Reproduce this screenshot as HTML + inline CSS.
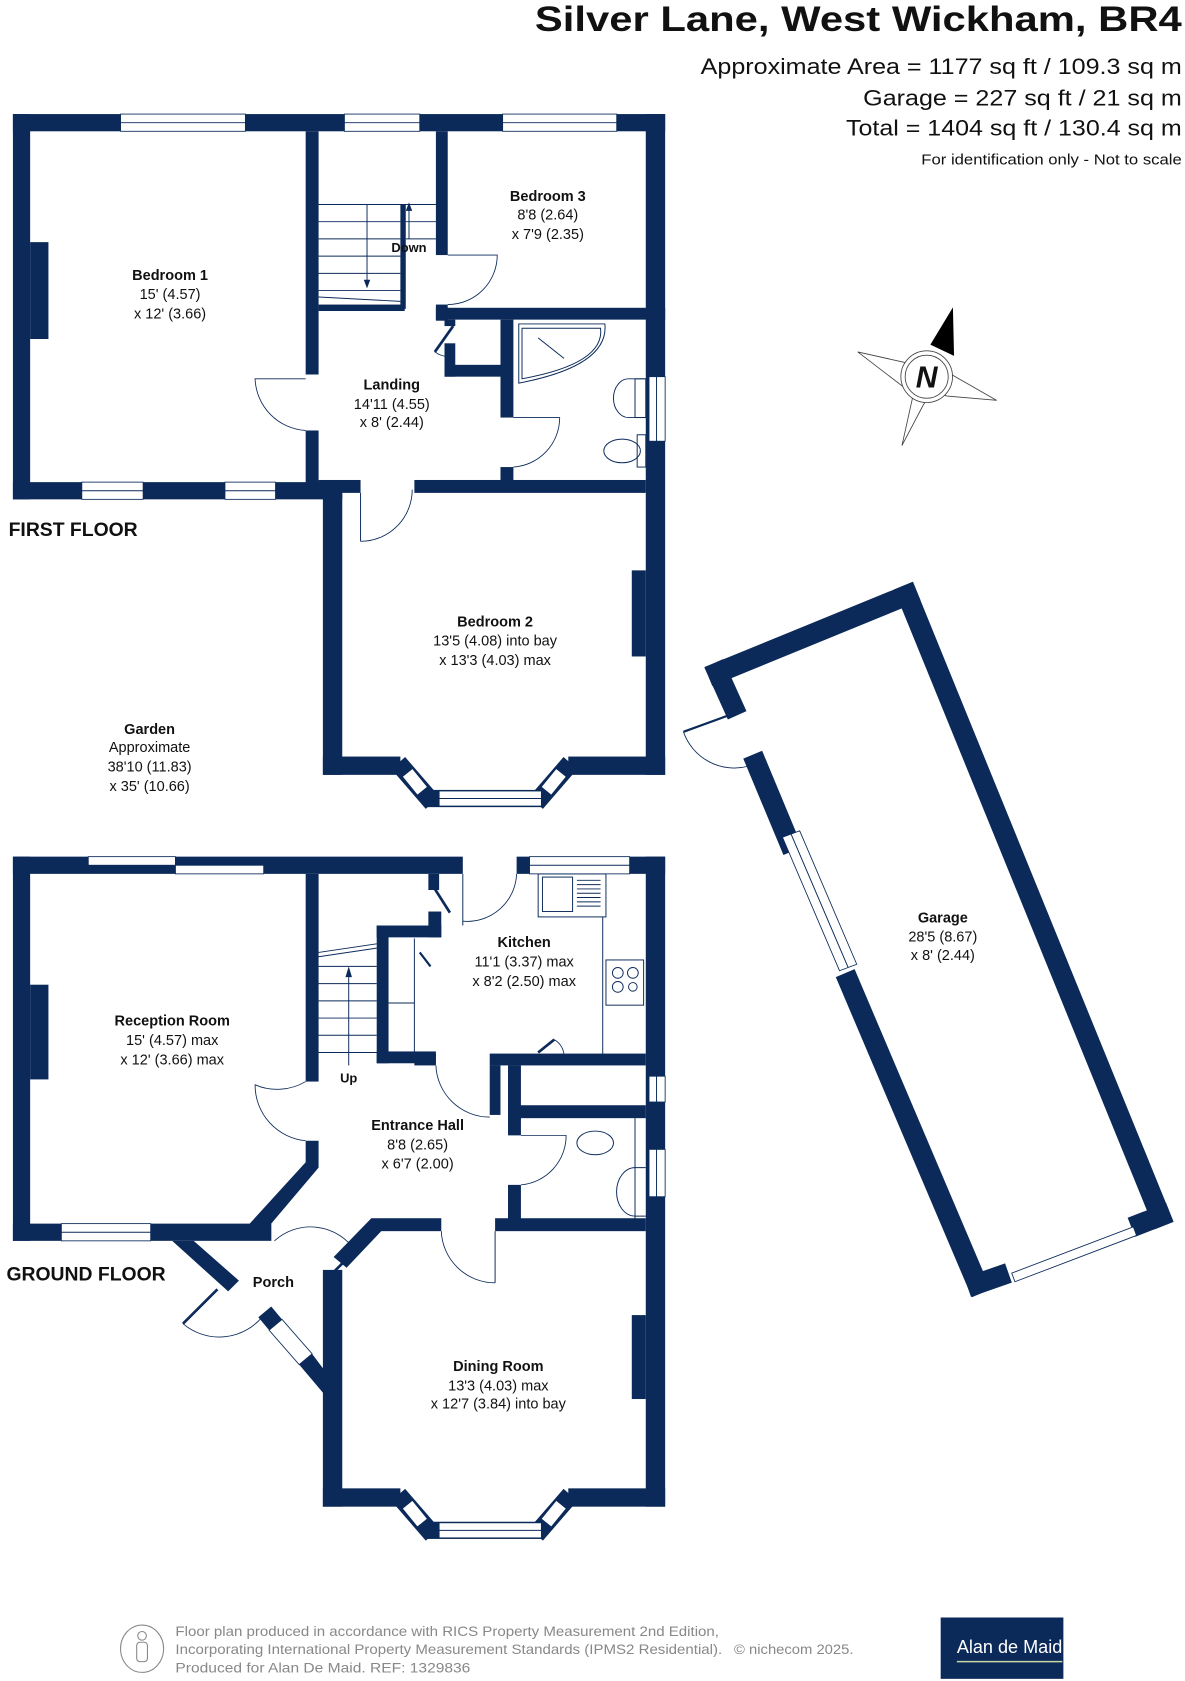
<!DOCTYPE html>
<html><head><meta charset="utf-8"><style>
html,body{margin:0;padding:0;background:#fff;}
svg{display:block;}
text{font-family:"Liberation Sans",Arial,sans-serif;fill:#111;}
</style></head><body>
<svg width="1185" height="1681" viewBox="0 0 1101 1562" preserveAspectRatio="none" xmlns="http://www.w3.org/2000/svg">
<defs><style>
.w{fill:#0b2a5a;}
.win{fill:#fff;stroke:#0b2a5a;stroke-width:0.8;}
.thin{fill:none;stroke:#0b2a5a;stroke-width:0.9;}
.arc{fill:none;stroke:#0b2a5a;stroke-width:0.8;}
.n{font-weight:bold;font-size:13.5px;text-anchor:middle;}
.d{font-size:13.5px;text-anchor:middle;}
</style></defs>

<!-- Header -->
<text x="497" y="29" font-size="33" font-weight="bold" textLength="601" lengthAdjust="spacingAndGlyphs">Silver Lane, West Wickham, BR4</text>
<text x="651" y="69" font-size="20.5" textLength="447" lengthAdjust="spacingAndGlyphs">Approximate Area = 1177 sq ft / 109.3 sq m</text>
<text x="802" y="98" font-size="20.5" textLength="296" lengthAdjust="spacingAndGlyphs">Garage = 227 sq ft / 21 sq m</text>
<text x="786" y="126" font-size="20.5" textLength="312" lengthAdjust="spacingAndGlyphs">Total = 1404 sq ft / 130.4 sq m</text>
<text x="856" y="153" font-size="14" textLength="242" lengthAdjust="spacingAndGlyphs">For identification only - Not to scale</text>

<!-- ========== FIRST FLOOR ========== -->
<rect class="w" x="12" y="106" width="606" height="16"/>
<rect class="w" x="12" y="106" width="16" height="358"/>
<rect class="w" x="28" y="225" width="17" height="90"/>
<rect class="w" x="12" y="448" width="306" height="16"/>
<rect class="w" x="284" y="122" width="12" height="226"/>
<rect class="w" x="284" y="400" width="12" height="52"/>
<rect class="w" x="296" y="283" width="80" height="6"/>
<rect class="w" x="372" y="190" width="5" height="97"/>
<g class="thin">
<line x1="296" y1="190" x2="405" y2="190"/>
<line x1="296" y1="206" x2="372" y2="206"/><line x1="296" y1="222" x2="372" y2="222"/>
<line x1="296" y1="238" x2="372" y2="238"/><line x1="296" y1="254" x2="372" y2="254"/>
<line x1="296" y1="270" x2="372" y2="270"/>
<line x1="377" y1="206" x2="405" y2="206"/><line x1="377" y1="222" x2="405" y2="222"/>
<line x1="341" y1="190" x2="341" y2="265"/>
<line x1="380" y1="190" x2="380" y2="222"/>
<line x1="296" y1="276" x2="372" y2="280"/>
</g>
<polygon points="338,260 344,260 341,268" fill="#0b2a5a"/>
<polygon points="377,196 383,196 380,188" fill="#0b2a5a"/>
<text x="380" y="234" font-size="12" font-weight="bold" text-anchor="middle">Down</text>
<rect class="w" x="405" y="122" width="11" height="115"/>
<rect class="w" x="405" y="283" width="11" height="15"/>
<rect class="w" x="405" y="286" width="213" height="11"/>
<path class="arc" d="M416,283 A46,46 0 0 0 462,237 L416,237"/>
<rect class="w" x="413" y="297" width="10" height="6"/>
<rect class="w" x="413" y="319" width="10" height="31"/>
<rect class="w" x="413" y="339" width="57" height="11"/>
<line x1="421" y1="303" x2="404" y2="327" stroke="#0b2a5a" stroke-width="2.5"/>
<path class="arc" d="M404,327 A22,22 0 0 0 420,331"/>
<rect class="w" x="465" y="297" width="12" height="91"/>
<rect class="w" x="465" y="434" width="12" height="14"/>
<path class="arc" d="M477,434 A46,46 0 0 0 520,388 L477,388"/>
<path class="thin" d="M482,301 L562,301 Q566,340 482,356 Z"/>
<path class="thin" d="M485,305 L558,305 Q562,338 485,352 Z"/>
<line class="thin" x1="500" y1="314" x2="524" y2="333"/>
<path class="thin" d="M600,352 L584,352 A14,18 0 0 0 584,388 L600,388"/>
<rect class="thin" x="590" y="352" width="10" height="36"/>
<ellipse class="thin" cx="578" cy="419" rx="17" ry="11"/>
<rect class="thin" x="592" y="404" width="8" height="30"/>
<rect class="w" x="600" y="106" width="18" height="614"/>
<rect class="win" x="603" y="350" width="15" height="60"/>
<line class="thin" x1="610" y1="350" x2="610" y2="410"/>
<rect class="w" x="296" y="446" width="39" height="12"/>
<rect class="w" x="385" y="446" width="215" height="12"/>
<path class="arc" d="M335,503 A48,48 0 0 0 383,455"/>
<line class="thin" x1="335" y1="458" x2="335" y2="503"/>
<path class="arc" d="M284,400 A50,50 0 0 1 237,352 L284,352"/>
<!-- bedroom2 -->
<rect class="w" x="300" y="458" width="18" height="262"/>
<g id="bay">
<rect class="w" x="300" y="703" width="72" height="17"/>
<rect class="w" x="528" y="703" width="90" height="17"/>
<line x1="370" y1="709" x2="402" y2="746" stroke="#0b2a5a" stroke-width="17"/>
<line x1="530" y1="709" x2="498" y2="746" stroke="#0b2a5a" stroke-width="17"/>
<rect class="w" x="395" y="734" width="110" height="16"/>
<rect class="win" x="408" y="735" width="95" height="14"/>
<line class="thin" x1="408" y1="742" x2="503" y2="742"/>
<polygon class="win" points="383.2,714.1 397.2,731.3 387.8,738.9 373.8,721.7"/>
<polygon class="win" points="516.8,714.1 502.8,731.3 512.2,738.9 526.2,721.7"/>
</g>
<rect class="w" x="587" y="530" width="13" height="80"/>
<rect class="win" x="112" y="106" width="116" height="16"/><line class="thin" x1="112" y1="114" x2="228" y2="114"/>
<rect class="win" x="320" y="106" width="70" height="16"/><line class="thin" x1="320" y1="114" x2="390" y2="114"/>
<rect class="win" x="467" y="106" width="106" height="16"/><line class="thin" x1="467" y1="114" x2="573" y2="114"/>
<rect class="win" x="76" y="448" width="57" height="16"/><line class="thin" x1="76" y1="456" x2="133" y2="456"/>
<rect class="win" x="209" y="448" width="47" height="16"/><line class="thin" x1="209" y1="456" x2="256" y2="456"/>
<text class="n" x="158" y="260">Bedroom 1</text>
<text class="d" x="158" y="278">15' (4.57)</text>
<text class="d" x="158" y="296">x 12' (3.66)</text>
<text class="n" x="509" y="187">Bedroom 3</text>
<text class="d" x="509" y="204">8'8 (2.64)</text>
<text class="d" x="509" y="222">x 7'9 (2.35)</text>
<text class="n" x="364" y="362">Landing</text>
<text class="d" x="364" y="380">14'11 (4.55)</text>
<text class="d" x="364" y="397">x 8' (2.44)</text>
<text class="n" x="460" y="582">Bedroom 2</text>
<text class="d" x="460" y="600">13'5 (4.08) into bay</text>
<text class="d" x="460" y="618">x 13'3 (4.03) max</text>
<text x="8" y="498" font-size="18" font-weight="bold">FIRST FLOOR</text>
<text class="n" x="139" y="682">Garden</text>
<text class="d" x="139" y="699">Approximate</text>
<text class="d" x="139" y="717">38'10 (11.83)</text>
<text class="d" x="139" y="735">x 35' (10.66)</text>

<!-- compass -->
<g stroke="#444" stroke-width="0.8" fill="#fff">
<polygon points="797,327 855,340 860,360 840,360"/>
<polygon points="926,372 870,340 860,362 880,368"/>
<polygon points="838,414 850,360 862,370 858,376"/>
<polygon points="885,287 865,320 886,330" fill="#000" stroke="#000"/>
<circle cx="861" cy="350" r="24"/>
<circle cx="861" cy="350" r="20"/>
</g>
<text x="861" y="360" font-size="28" font-weight="bold" font-style="italic" text-anchor="middle">N</text>

<!-- ========== GROUND FLOOR ========== -->
<rect class="w" x="12" y="796" width="418" height="16"/>
<rect class="w" x="480" y="796" width="138" height="16"/>
<rect class="w" x="12" y="796" width="16" height="357"/>
<rect class="w" x="28" y="915" width="17" height="88"/>
<rect class="w" x="12" y="1137" width="240" height="16"/>
<rect class="win" x="82" y="796" width="81" height="8"/>
<rect class="win" x="163" y="804" width="82" height="8"/>
<rect class="win" x="57" y="1137" width="83" height="16"/><line class="thin" x1="57" y1="1145" x2="140" y2="1145"/>
<rect class="w" x="284" y="812" width="12" height="193"/>
<polygon class="w" points="284,1060 296,1060 296,1085 252,1137 252,1153 232,1137 284,1080"/>
<path class="arc" d="M284,1005 A52,52 0 0 1 237,1008 A52,52 0 0 0 284,1060"/>
<g class="thin">
<line x1="296" y1="885" x2="350" y2="877"/><line x1="296" y1="889" x2="350" y2="881"/>
<line x1="296" y1="898" x2="350" y2="898"/><line x1="296" y1="914" x2="350" y2="914"/>
<line x1="296" y1="930" x2="350" y2="930"/><line x1="296" y1="946" x2="350" y2="946"/>
<line x1="296" y1="962" x2="350" y2="962"/><line x1="296" y1="978" x2="350" y2="978"/>
<line x1="324" y1="900" x2="324" y2="990"/>
<line x1="385" y1="872" x2="385" y2="978"/>
<line x1="361" y1="932" x2="385" y2="932"/>
</g>
<polygon points="321,908 327,908 324,898" fill="#0b2a5a"/>
<text x="324" y="1006" font-size="12" font-weight="bold" text-anchor="middle">Up</text>
<rect class="w" x="350" y="860" width="11" height="128"/>
<rect class="w" x="350" y="860" width="60" height="11"/>
<rect class="w" x="398" y="847" width="12" height="24"/>
<rect class="w" x="350" y="977" width="55" height="11"/>
<rect class="w" x="398" y="812" width="10" height="15"/>
<line x1="404" y1="826" x2="418" y2="848" stroke="#0b2a5a" stroke-width="2.5"/>
<line x1="390" y1="885" x2="400" y2="898" stroke="#0b2a5a" stroke-width="2"/>
<line class="thin" x1="430" y1="812" x2="430" y2="860"/>
<path class="arc" d="M430,856 A46,46 0 0 0 480,812"/>
<rect class="thin" x="500" y="812" width="63" height="40"/>
<rect class="thin" x="504" y="815" width="28" height="32"/>
<g class="thin"><line x1="536" y1="818" x2="558" y2="818"/><line x1="536" y1="822" x2="558" y2="822"/><line x1="536" y1="826" x2="558" y2="826"/><line x1="536" y1="830" x2="558" y2="830"/><line x1="536" y1="834" x2="558" y2="834"/><line x1="536" y1="838" x2="558" y2="838"/><line x1="536" y1="842" x2="558" y2="842"/></g>
<line class="thin" x1="560" y1="852" x2="560" y2="980"/>
<rect class="thin" x="563" y="892" width="35" height="42"/>
<circle class="thin" cx="574" cy="904" r="5"/><circle class="thin" cx="588" cy="904" r="5"/>
<circle class="thin" cx="574" cy="917" r="5"/><circle class="thin" cx="588" cy="917" r="4"/>
<rect class="win" x="492" y="796" width="93" height="16"/><line class="thin" x1="492" y1="804" x2="585" y2="804"/>
<rect class="w" x="385" y="979" width="20" height="11"/>
<rect class="w" x="455" y="979" width="145" height="11"/>
<rect class="w" x="455" y="990" width="10" height="46"/>
<path class="arc" d="M405,990 A50,50 0 0 0 455,1038"/>
<line x1="500" y1="978" x2="515" y2="966" stroke="#0b2a5a" stroke-width="2.5"/>
<path class="arc" d="M515,966 A18,18 0 0 1 524,980"/>
<rect class="w" x="472" y="990" width="12" height="50"/>
<rect class="w" x="472" y="1027" width="128" height="12"/>
<rect class="w" x="472" y="1039" width="12" height="16"/>
<rect class="w" x="472" y="1101" width="12" height="36"/>
<path class="arc" d="M484,1101 A46,46 0 0 0 526,1055 L484,1055"/>
<line class="thin" x1="590" y1="1039" x2="590" y2="1137"/>
<ellipse class="thin" cx="553" cy="1062" rx="17" ry="11"/>
<path class="thin" d="M600,1085 L590,1085 A16,21 0 0 0 590,1130 L600,1130"/>
<rect class="w" x="600" y="796" width="18" height="604"/>
<rect class="win" x="603" y="1000" width="15" height="24"/>
<rect class="win" x="603" y="1068" width="15" height="44"/>
<line class="thin" x1="610" y1="1000" x2="610" y2="1024"/><line class="thin" x1="610" y1="1068" x2="610" y2="1112"/>
<rect class="w" x="460" y="1132" width="140" height="12"/>
<rect class="w" x="345" y="1132" width="65" height="12"/>
<polygon class="w" points="345,1132 358,1140 322,1178 310,1168"/>
<path class="arc" d="M410,1144 A50,50 0 0 0 460,1192"/>
<line class="thin" x1="460" y1="1144" x2="460" y2="1192"/>
<polygon class="w" points="160,1153 180,1153 222,1190 212,1200"/>
<line x1="202" y1="1198" x2="170" y2="1230" stroke="#0b2a5a" stroke-width="2.5"/>
<path class="arc" d="M170,1230 A52,52 0 0 0 245,1222"/>
<path class="arc" d="M255,1153 A50,50 0 0 1 330,1162"/>
<line x1="330" y1="1162" x2="304" y2="1188" stroke="#0b2a5a" stroke-width="2.5"/>
<polygon class="w" points="240,1224 252,1214 262,1226 250,1236"/>
<polygon class="win" points="250,1236 262,1226 290,1258 278,1268"/>
<polygon class="w" points="278,1268 290,1258 305,1278 305,1300"/>
<rect class="w" x="300" y="1180" width="18" height="220"/>
<use href="#bay" transform="translate(0,680)"/>
<rect class="w" x="587" y="1222" width="13" height="78"/>

<text class="n" x="160" y="953">Reception Room</text>
<text class="d" x="160" y="971">15' (4.57) max</text>
<text class="d" x="160" y="989">x 12' (3.66) max</text>
<text class="n" x="487" y="880">Kitchen</text>
<text class="d" x="487" y="898">11'1 (3.37) max</text>
<text class="d" x="487" y="916">x 8'2 (2.50) max</text>
<text class="n" x="388" y="1050">Entrance Hall</text>
<text class="d" x="388" y="1068">8'8 (2.65)</text>
<text class="d" x="388" y="1086">x 6'7 (2.00)</text>
<text class="n" x="254" y="1196">Porch</text>
<text class="n" x="463" y="1274">Dining Room</text>
<text class="d" x="463" y="1292">13'3 (4.03) max</text>
<text class="d" x="463" y="1309">x 12'7 (3.84) into bay</text>
<text x="6" y="1190" font-size="18" font-weight="bold">GROUND FLOOR</text>

<!-- ========== GARAGE ========== -->
<g stroke="#0b2a5a" stroke-width="19" fill="none" stroke-linecap="square">
<line x1="667" y1="625" x2="843" y2="553"/>
<line x1="843" y1="553" x2="1078" y2="1130"/>
<line x1="1078" y1="1130" x2="1060" y2="1137"/>
<line x1="928" y1="1186" x2="908" y2="1193"/>
<line x1="908" y1="1193" x2="789" y2="913"/>
<line x1="733" y1="782" x2="703" y2="710"/>
<line x1="681" y1="656" x2="667" y2="625"/>
</g>
<polygon class="win" points="727,778 743,772 796,896 780,902"/>
<line class="thin" x1="735" y1="775" x2="788" y2="899"/>
<polygon class="win" points="940,1183 1053,1140 1056,1148 943,1191"/>
<path class="arc" d="M635,680 A50,50 0 0 0 695,712"/>
<line x1="635" y1="680" x2="690" y2="660" stroke="#0b2a5a" stroke-width="2"/>
<text class="n" x="876" y="857">Garage</text>
<text class="d" x="876" y="875">28'5 (8.67)</text>
<text class="d" x="876" y="892">x 8' (2.44)</text>

<!-- Footer -->
<ellipse cx="132" cy="1532" rx="20" ry="22" fill="none" stroke="#888" stroke-width="1"/>
<circle cx="132" cy="1520" r="4" fill="none" stroke="#888"/>
<rect x="127" y="1526" width="10" height="18" rx="3" fill="none" stroke="#888"/>
<text x="163" y="1520" font-size="12.5" style="fill:#888" textLength="505" lengthAdjust="spacingAndGlyphs">Floor plan produced in accordance with RICS Property Measurement 2nd Edition,</text>
<text x="163" y="1537" font-size="12.5" style="fill:#888" textLength="508" lengthAdjust="spacingAndGlyphs">Incorporating International Property Measurement Standards (IPMS2 Residential).</text>
<text x="682" y="1537" font-size="12.5" style="fill:#888" textLength="111" lengthAdjust="spacingAndGlyphs">© nichecom 2025.</text>
<text x="163" y="1554" font-size="12.5" style="fill:#888" textLength="274" lengthAdjust="spacingAndGlyphs">Produced for Alan De Maid.   REF: 1329836</text>
<rect x="874" y="1503" width="114" height="57" fill="#0b2a5a"/>
<text x="938" y="1536" font-size="17" text-anchor="middle" style="fill:#fff" textLength="98" lengthAdjust="spacingAndGlyphs">Alan de Maid</text>
<line x1="889" y1="1544" x2="987" y2="1544" stroke="#c8d6a0" stroke-width="1.5"/>
</svg>
</body></html>
